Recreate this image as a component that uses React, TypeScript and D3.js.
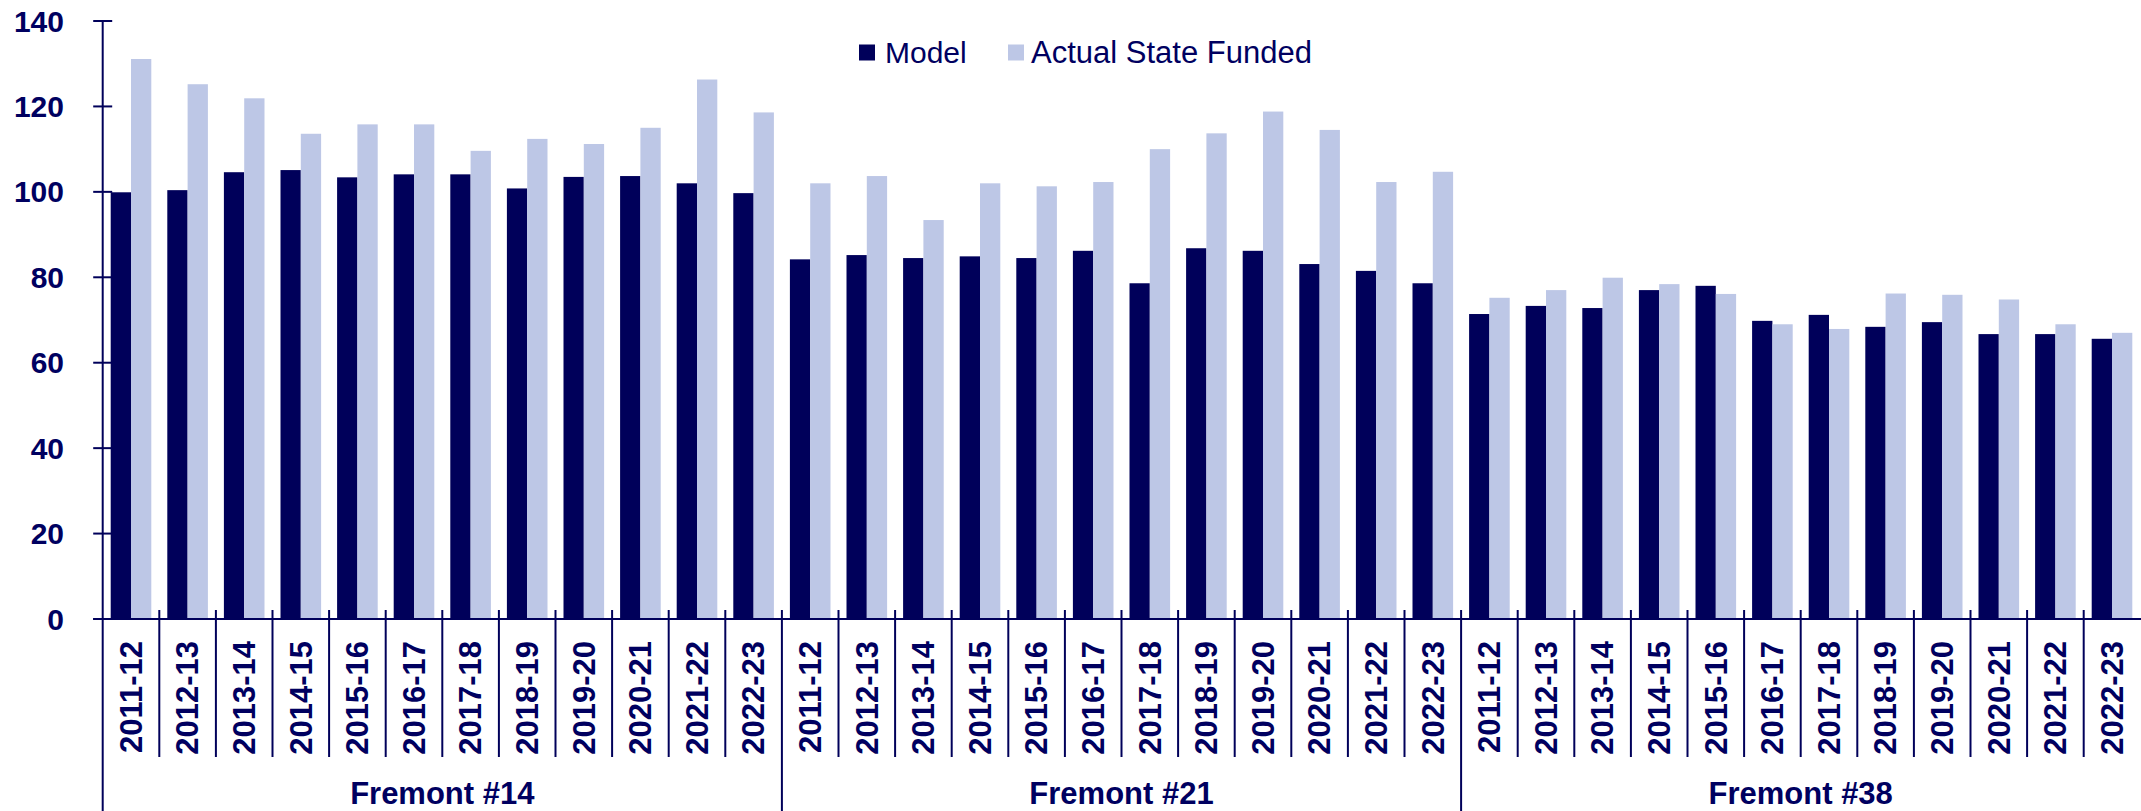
import * as d3 from 'd3';

const years = ['2011-12', '2012-13', '2013-14', '2014-15', '2015-16', '2016-17', '2017-18', '2018-19', '2019-20', '2020-21', '2021-22', '2022-23'];
const districts = ['Fremont #14', 'Fremont #21', 'Fremont #38'];
const seriesNames = ['Model', 'Actual State Funded'];

const model14 = [99.9, 100.4, 104.6, 105.1, 103.4, 104.1, 104.1, 100.8, 103.5, 103.7, 102.0, 99.7];
const actual14 = [131.1, 125.2, 121.9, 113.6, 115.8, 115.8, 109.6, 112.4, 111.2, 115.0, 126.3, 118.6];
const model21 = [84.2, 85.2, 84.5, 84.9, 84.5, 86.2, 78.6, 86.8, 86.2, 83.1, 81.5, 78.6];
const actual21 = [102.0, 103.7, 93.4, 102.0, 101.3, 102.3, 110.0, 113.7, 118.8, 114.5, 102.3, 104.7];
const model38 = [71.4, 73.3, 72.8, 77.0, 78.0, 69.8, 71.2, 68.4, 69.5, 66.7, 66.7, 65.6];
const actual38 = [75.2, 77.0, 79.9, 78.4, 76.1, 69.0, 67.9, 76.2, 75.9, 74.8, 69.0, 67.0];

const yTicks = [0, 20, 40, 60, 80, 100, 120, 140];

const modelByDistrict = [model14, model21, model38];
const actualByDistrict = [actual14, actual21, actual38];

const W = 2141;
const H = 811;
const NAVY = '#00005a';
const LIGHT = '#bdc7e6';
const TEXT = '#000060';
const FONT = '"Liberation Sans", Arial, Helvetica, sans-serif';

type Row = { key: string; district: string; year: string; values: number[] };

const rows: Row[] = [];
districts.forEach((d, i) => {
  years.forEach((yr, j) => {
    rows.push({ key: d + '|' + yr, district: d, year: yr, values: [modelByDistrict[i][j], actualByDistrict[i][j]] });
  });
});

export default function App() {
  const left = 102.7;
  const step = 56.6;
  const x = d3.scaleBand().domain(rows.map(r => r.key)).range([left, left + rows.length * step]);
  const xs = d3.scaleBand().domain(seriesNames).range([0, x.bandwidth()]).paddingOuter(0.394);
  const y = d3.scaleLinear().domain([0, 140]).range([619, 21]);
  const colors = [NAVY, LIGHT];
  const axisBottom = y(0);

  return (
    <svg width={W} height={H} style={{ position: 'absolute', left: 0, top: 0, background: '#fff' }} fontFamily={FONT}>
      {/* bars */}
      {rows.map(r => (
        <g key={r.key} transform={`translate(${x(r.key)},0)`}>
          {r.values.map((v, i) => (
            <rect key={i} x={xs(seriesNames[i])} y={y(v)} width={xs.bandwidth()} height={y(0) - y(v)} fill={colors[i]} />
          ))}
        </g>
      ))}

      {/* y axis */}
      <line x1={left} x2={left} y1={y(140)} y2={H} stroke={NAVY} strokeWidth={2} />
      {yTicks.map(t => (
        <g key={t}>
          <line x1={left - 9.5} x2={left + 9.5} y1={y(t)} y2={y(t)} stroke={NAVY} strokeWidth={2} />
          <text x={64} y={y(t)} dy="0.35em" textAnchor="end" fontSize={30} fontWeight="bold" fill={TEXT}>{t}</text>
        </g>
      ))}

      {/* x axis */}
      <line x1={left - 9.5} x2={W} y1={axisBottom} y2={axisBottom} stroke={NAVY} strokeWidth={2} />
      {rows.map((r, i) => {
        const x0 = x(r.key) as number;
        const isGroupStart = i % years.length === 0;
        return (
          <g key={'t' + r.key}>
            {i > 0 && (
              <line x1={x0} x2={x0} y1={axisBottom - 9} y2={isGroupStart ? H : 757} stroke={NAVY} strokeWidth={2} />
            )}
            <text
              transform={`translate(${x0 + x.bandwidth() / 2},641) rotate(-90)`}
              dy="0.35em"
              textAnchor="end"
              fontSize={31}
              fontWeight="bold"
              fill={TEXT}
            >
              {r.year}
            </text>
          </g>
        );
      })}

      {/* district labels */}
      {districts.map(d => {
        const x0 = x(d + '|' + years[0]) as number;
        const x1 = (x(d + '|' + years[years.length - 1]) as number) + x.bandwidth();
        return (
          <text key={d} x={(x0 + x1) / 2} y={804} textAnchor="middle" fontSize={31} fontWeight="bold" fill={TEXT}>{d}</text>
        );
      })}

      {/* legend */}
      <g>
        <rect x={859} y={44.5} width={16} height={16} fill={NAVY} />
        <text x={885} y={62.5} fontSize={30} fill={TEXT}>{seriesNames[0]}</text>
        <rect x={1008} y={44.5} width={16} height={16} fill={LIGHT} />
        <text x={1031} y={62.5} fontSize={31} fill={TEXT}>{seriesNames[1]}</text>
      </g>
    </svg>
  );
}
